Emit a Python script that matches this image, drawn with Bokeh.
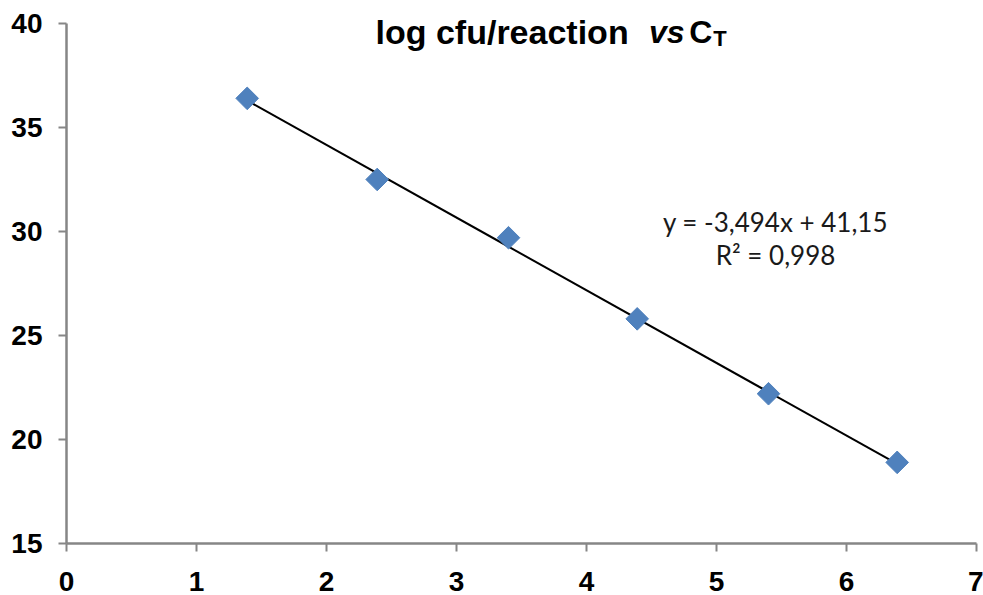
import numpy as np
from bokeh.plotting import figure
from bokeh.models import ColumnDataSource, Label, FixedTicker
from bokeh.embed import file_html
from bokeh.resources import INLINE

# ---- data ----
log_cfu = [1.39, 2.39, 3.40, 4.39, 5.40, 6.39]
ct_values = [36.4, 32.5, 29.7, 25.8, 22.2, 18.9]
slope = -3.494
intercept = 41.15
equation_text = "y = -3,494x + 41,15"
r2_text = "R\u00b2 = 0,998"
x_ticks = [0, 1, 2, 3, 4, 5, 6, 7]
y_ticks = [15, 20, 25, 30, 35, 40]

# y range reaches a little above 40 so the title (drawn inside the frame) is not clipped;
# the axis line itself is bounded to 15..40
p = figure(width=983, height=595, x_range=(0, 7), y_range=(15, 40.96),
           output_backend="svg", toolbar_location=None,
           min_border_left=66, min_border_right=7, min_border_top=3, min_border_bottom=52)
p.outline_line_color = None
p.grid.grid_line_color = None
p.background_fill_color = "white"

for ax in (p.xaxis[0], p.yaxis[0]):
    ax.axis_line_color = "#868686"
    ax.axis_line_width = 2.5
    ax.major_tick_line_color = "#868686"
    ax.major_tick_line_width = 2
    ax.major_tick_in = 0
    ax.major_tick_out = 8
    ax.minor_tick_line_color = None
    ax.major_label_text_font = "Liberation Sans"
    ax.major_label_text_font_style = "bold"
    ax.major_label_text_font_size = "28px"
    ax.major_label_text_color = "black"

p.xaxis[0].ticker = FixedTicker(ticks=x_ticks)
p.yaxis[0].ticker = FixedTicker(ticks=y_ticks)
p.yaxis[0].bounds = (15, 40)
p.xaxis[0].major_label_standoff = 20
p.yaxis[0].major_label_standoff = 16

# trendline
xs = np.array([min(log_cfu), max(log_cfu)])
ys = slope * xs + intercept
p.line(xs, ys, line_color="black", line_width=2)

src = ColumnDataSource(dict(x=log_cfu, y=ct_values))
p.scatter("x", "y", source=src, marker="square", angle=np.pi / 4, size=16,
          fill_color="#4F81BD", line_color="#4F81BD")

# title pieces
tf = "Liberation Sans"
p.add_layout(Label(x=2.377, y=39.6, text="log cfu/reaction", text_font=tf, text_color="black",
                   text_font_style="bold", text_font_size="34px", text_baseline="alphabetic"))
p.add_layout(Label(x=4.48, y=39.6, text="vs", text_font=tf, text_color="black",
                   text_font_style="bold italic", text_font_size="32px", text_baseline="alphabetic"))
p.add_layout(Label(x=4.79, y=39.6, text="C", text_font=tf, text_color="black",
                   text_font_style="bold", text_font_size="32px", text_baseline="alphabetic"))
p.add_layout(Label(x=4.975, y=39.3, text="T", text_font=tf, text_color="black",
                   text_font_style="bold", text_font_size="22px", text_baseline="alphabetic"))

# equation
ef = "Lato"
p.add_layout(Label(x=5.454, y=30.45, text=equation_text, text_font=ef, text_color="#1a1a1a",
                   text_font_size="26px", text_align="center", text_baseline="alphabetic"))
p.add_layout(Label(x=5.454, y=28.87, text=r2_text, text_font=ef, text_color="#1a1a1a",
                   text_font_size="26px", text_align="center", text_baseline="alphabetic"))

open("out.html", "w").write(file_html(p, INLINE))
